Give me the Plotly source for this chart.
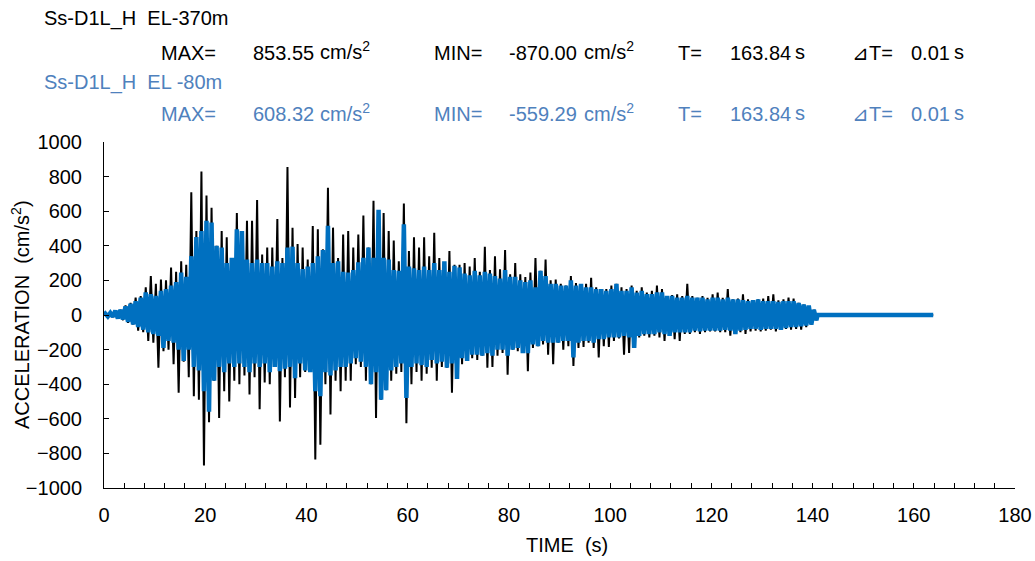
import plotly.graph_objects as go

# ---- data (peak values per 1-s window) ----
SEC = list(range(141))  # window start time (s)

EL370_UP = [5, 10, 25, 30, 55, 70, 100, 110, 160, 225,
            180, 205, 200, 275, 250, 310, 290, 710, 485, 830,
            690, 620, 400, 485, 450, 310, 590, 420, 545, 545,
            665, 350, 390, 390, 555, 330, 855, 505, 410, 390,
            320, 515, 495, 380, 735, 505, 330, 465, 485, 390,
            465, 575, 390, 660, 560, 590, 485, 430, 310, 645,
            370, 450, 390, 450, 340, 475, 330, 300, 370, 290,
            290, 300, 280, 330, 250, 395, 260, 340, 265, 375,
            235, 300, 235, 220, 245, 330, 255, 320, 200, 205,
            180, 170, 225, 185, 170, 180, 215, 160, 150, 150,
            170, 180, 160, 150, 170, 140, 160, 130, 140, 170,
            150, 110, 115, 120, 110, 180, 110, 100, 110, 100,
            120, 130, 100, 150, 90, 95, 120, 90, 85, 90,
            95, 110, 120, 85, 90, 100, 95, 70, 60, 50,
            30]
EL370_DN = [-5, -8, -20, -30, -45, -55, -90, -100, -150, -160,
            -305, -210, -200, -285, -450, -270, -360, -470, -490, -870,
            -620, -380, -595, -440, -500, -380, -400, -350, -460, -360,
            -545, -390, -400, -300, -615, -360, -535, -480, -360, -330,
            -330, -835, -750, -400, -575, -380, -440, -380, -380, -285,
            -300, -380, -400, -595, -490, -435, -380, -340, -330, -625,
            -400, -330, -380, -340, -305, -380, -300, -305, -450, -370,
            -285, -265, -250, -260, -235, -305, -300, -235, -220, -345,
            -200, -210, -190, -325, -190, -180, -170, -230, -285, -160,
            -200, -180, -295, -190, -185, -160, -190, -245, -180, -185,
            -150, -135, -230, -220, -190, -130, -120, -130, -120, -130,
            -150, -120, -140, -150, -110, -110, -100, -110, -100, -95,
            -95, -100, -100, -120, -110, -100, -110, -95, -90, -95,
            -90, -85, -95, -85, -80, -85, -80, -85, -70, -55,
            -30]

EL80_UP = [8, 12, 25, 30, 50, 65, 80, 100, 130, 120,
           110, 140, 150, 170, 190, 245, 220, 340, 450, 485,
           545, 535, 400, 390, 300, 330, 495, 485, 320, 300,
           320, 300, 300, 280, 310, 300, 390, 395, 300, 265,
           280, 300, 340, 375, 515, 300, 310, 250, 245, 260,
           305, 330, 390, 330, 608, 330, 320, 260, 255, 525,
           280, 270, 260, 280, 260, 300, 260, 310, 250, 285,
           275, 240, 230, 255, 230, 250, 240, 225, 210, 260,
           220, 220, 200, 190, 200, 160, 255, 225, 180, 180,
           170, 170, 200, 170, 180, 160, 160, 150, 150, 140,
           150, 180, 140, 140, 160, 130, 140, 120, 120, 130,
           130, 110, 110, 100, 100, 110, 100, 100, 100, 90,
           100, 100, 90, 100, 90, 90, 85, 80, 85, 90,
           80, 80, 80, 75, 80, 80, 80, 70, 60, 55,
           30]
EL80_DN = [-8, -10, -20, -25, -40, -55, -70, -85, -100, -110,
           -120, -190, -150, -160, -200, -265, -200, -300, -320, -440,
           -559, -380, -300, -330, -280, -300, -280, -300, -330, -280,
           -300, -280, -330, -300, -325, -310, -300, -365, -280, -320,
           -330, -440, -470, -330, -350, -320, -300, -300, -280, -250,
           -270, -300, -400, -330, -490, -435, -320, -300, -280, -480,
           -300, -280, -290, -300, -260, -280, -270, -305, -280, -370,
           -250, -265, -230, -230, -235, -220, -235, -200, -200, -235,
           -200, -190, -220, -220, -170, -180, -150, -160, -160, -160,
           -150, -150, -245, -160, -150, -150, -160, -140, -140, -130,
           -130, -130, -120, -130, -190, -120, -110, -110, -110, -100,
           -110, -120, -100, -100, -100, -100, -90, -95, -90, -90,
           -90, -90, -85, -90, -110, -90, -85, -80, -80, -85,
           -80, -80, -80, -85, -75, -70, -70, -65, -60, -55,
           -30]

DURATION = 163.84

HEAD_BLACK = ["Ss-D1L_H\u00a0 EL-370m", "853.55", "-870.00", "163.84", "0.01"]
HEAD_BLUE = ["Ss-D1L_H\u00a0 EL -80m", "608.32", "-559.29", "163.84", "0.01"]

X_TICKS = list(range(0, 181, 20))
Y_TICKS = list(range(-1000, 1001, 200))


def zigzag(up, dn):
    xs, ys = [0.0], [0.0]
    for s, u, d in zip(SEC, up, dn):
        xs += [s + 0.25, s + 0.75]
        ys += [u, d]
    xs += [SEC[-1] + 1.0, DURATION]
    ys += [0.0, 0.0]
    return xs, ys


FONT = "Liberation Sans, Arial, sans-serif"
FS = 20
BLACK = "#000000"
BLUE_TXT = "#4F81BD"
BLUE_LINE = "#0070C0"

fig = go.Figure()
bx, by = zigzag(EL370_UP, EL370_DN)
fig.add_trace(go.Scatter(x=bx, y=by, mode="lines", name="EL-370m",
                         line=dict(color=BLACK, width=2), showlegend=False))
ux, uy = zigzag(EL80_UP, EL80_DN)
fig.add_trace(go.Scatter(x=ux, y=uy, mode="lines", name="EL -80m",
                         line=dict(color=BLUE_LINE, width=4.5), showlegend=False))

# the page margin is removed below, so figure pixels == page pixels
W, H = 1035, 561
PL, PR, PT, PB = 104, 1015, 142, 488  # plot area in page pixels
L, R, T, B = PL, W - PR, PT, H - PB
PW, PH = PR - PL, PB - PT


def px(x):
    return (x - PL) / PW


def py(y):
    return (PB - y) / PH


annos = []


def txt(text, x, y, color, anchor="left", angle=0):
    annos.append(dict(text=text, x=px(x), y=py(y), xref="paper", yref="paper",
                      xanchor=anchor, yanchor="middle", showarrow=False,
                      textangle=angle,
                      font=dict(family=FONT, size=FS, color=color)))


for heads, color, y0, yr in ((HEAD_BLACK, BLACK, 18, 53), (HEAD_BLUE, BLUE_TXT, 82, 114)):
    txt(heads[0], 42, y0, color)
    txt("MAX=", 159, yr, color)
    txt(heads[1], 251, yr, color)
    txt("cm/s<sup>2</sup>", 318, yr - 2, color)
    txt("MIN=", 432, yr, color)
    txt(heads[2], 507, yr, color)
    txt("cm/s<sup>2</sup>", 582, yr - 2, color)
    txt("T=", 676, yr, color)
    txt(heads[3], 728, yr, color)
    txt("s", 793, yr - 1, color)
    txt("\u22bfT=", 850, yr, color)
    txt(heads[4], 909, yr, color)
    txt("s", 952, yr - 1, color)

# axis titles
txt("TIME\u00a0 (s)", 567, 545, BLACK, anchor="center")
txt("ACCELERATION\u00a0 (cm/s<sup>2</sup>)", 20, 315, BLACK, anchor="center", angle=-90)

fig.update_layout(
    width=W, height=H,
    margin=dict(l=L, r=R, t=T, b=B, pad=0, autoexpand=False),
    paper_bgcolor="white", plot_bgcolor="white",
    font=dict(family=FONT, size=FS, color=BLACK),
    annotations=annos,
    xaxis=dict(range=[0, 180], tickvals=X_TICKS, ticks="inside", ticklen=5,
               tickwidth=1, tickcolor=BLACK, showline=True, linecolor=BLACK,
               linewidth=1, showgrid=False, zeroline=False, automargin=False,
               ticklabelstandoff=9, ticklabeloverflow="allow",
               minor=dict(dtick=4, tick0=0, ticks="inside", ticklen=5,
                          tickcolor=BLACK, showgrid=False),
               tickfont=dict(family=FONT, size=FS, color=BLACK)),
    yaxis=dict(range=[-1000, 1000], tickvals=Y_TICKS, ticks="inside", ticklen=5,
               tickwidth=1, tickcolor=BLACK, showline=True, linecolor=BLACK,
               linewidth=1, showgrid=False, zeroline=False, automargin=False,
               ticklabelstandoff=17,
               tickfont=dict(family=FONT, size=FS, color=BLACK)),
)

fig.write_html(
    "out.html",
    config={"displayModeBar": False},
    post_script="document.body.style.margin='0';"
                "document.documentElement.style.overflow='hidden';",
)
